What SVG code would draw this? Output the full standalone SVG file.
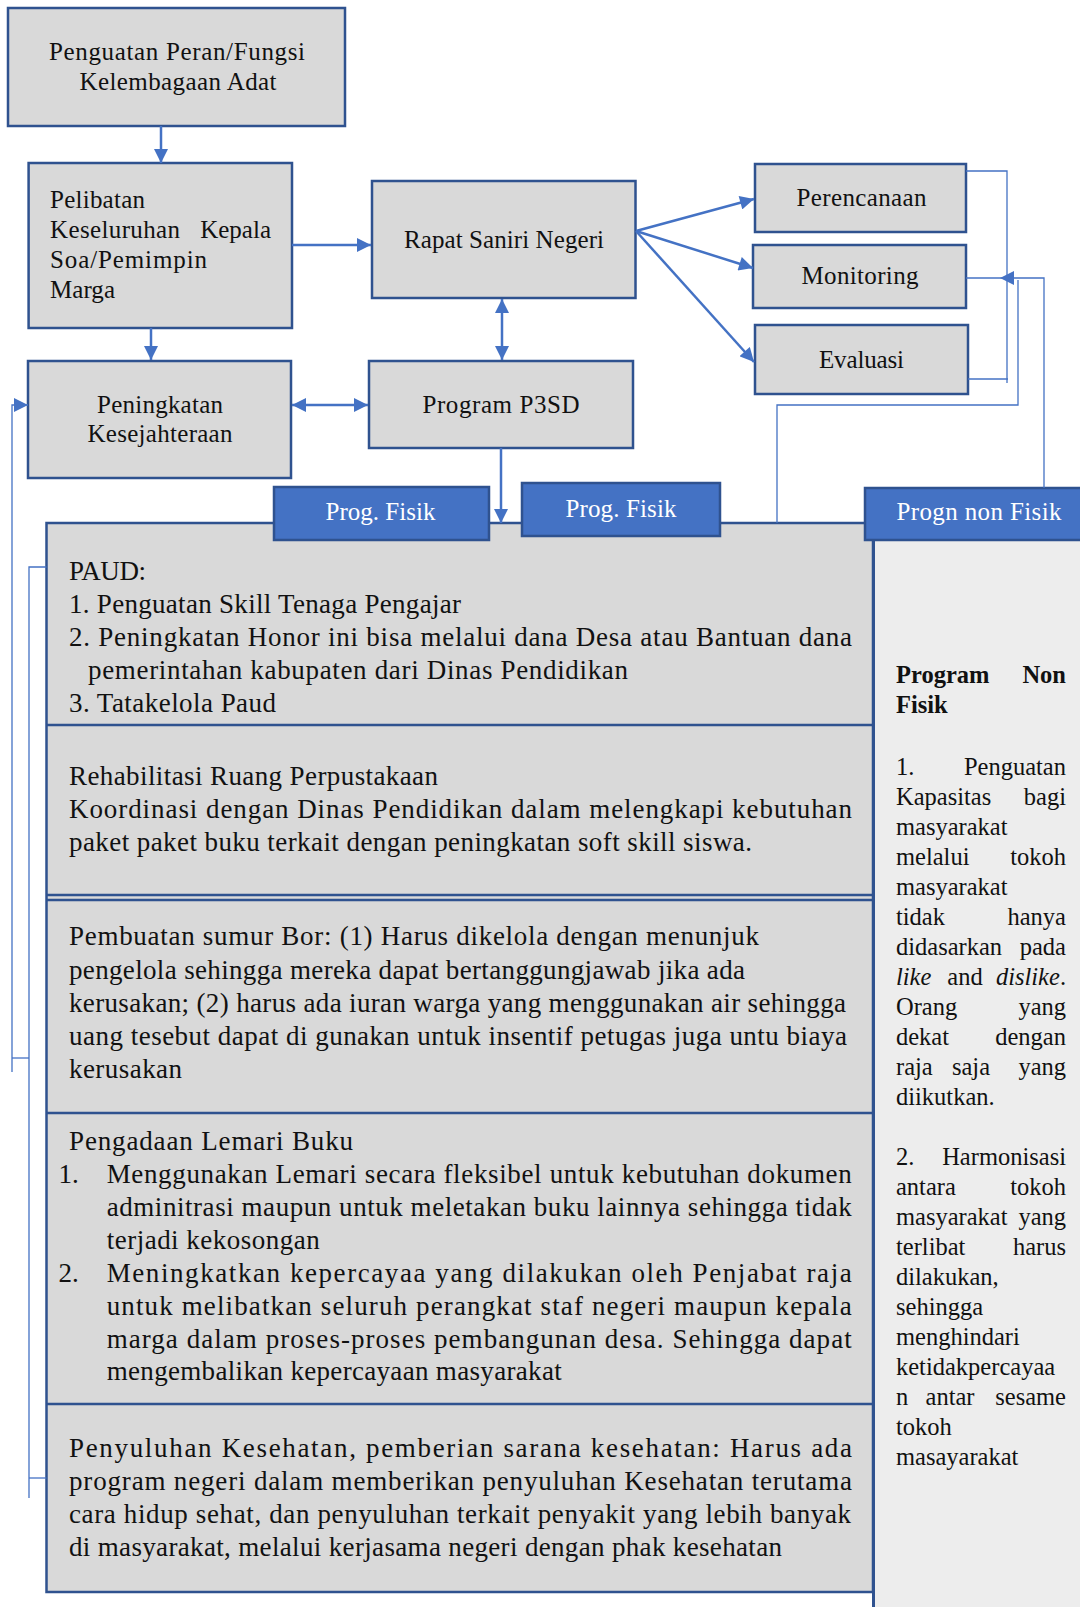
<svg xmlns="http://www.w3.org/2000/svg" width="1080" height="1607" viewBox="0 0 1080 1607">
<style>
.box{fill:#D9D9D9;stroke:#2F528F;stroke-width:2.5}
.tab{fill:#4472C4;stroke:#2F528F;stroke-width:2.5}
.t{font-family:"Liberation Serif","Times New Roman",serif;font-size:25px;fill:#111}
.tc{text-anchor:middle}
.tw{fill:#fff}
.b{font-family:"Liberation Serif","Times New Roman",serif;font-size:27px;fill:#111}
.r{font-family:"Liberation Serif","Times New Roman",serif;font-size:24.5px;fill:#111}
.e{text-anchor:end}
.bd{font-weight:bold}
.it{font-style:italic}
.arr{fill:none;stroke:#4472C4;stroke-width:2.5}
.thin{fill:none;stroke:#4472C4;stroke-width:1.3}
.dv{stroke:#2F528F;stroke-width:2.5}
</style>
<defs>
<marker id="ah" viewBox="0 0 10 10" refX="10" refY="5" markerWidth="15" markerHeight="14" markerUnits="userSpaceOnUse" orient="auto-start-reverse"><path d="M0,0 L10,5 L0,10 z" fill="#4472C4"/></marker>
</defs>

<g id="n-penguatan">
<rect class="box" x="8" y="8" width="337" height="118"/>
<text class="t tc" x="177" y="60" textLength="256">Penguatan Peran/Fungsi</text>
<text class="t tc" x="178" y="90" textLength="197">Kelembagaan Adat</text>
</g>

<g id="n-pelibatan">
<rect class="box" x="28.6" y="163" width="263.4" height="165"/>
<text class="t" x="50" y="208" textLength="95">Pelibatan</text>
<text class="t" x="50" y="238" textLength="130">Keseluruhan</text>
<text class="t e" x="271" y="238">Kepala</text>
<text class="t" x="50" y="268" textLength="157">Soa/Pemimpin</text>
<text class="t" x="50" y="298" textLength="65">Marga</text>
</g>

<g id="n-rapat">
<rect class="box" x="372" y="181" width="263.5" height="117"/>
<text class="t tc" x="504" y="248" textLength="200">Rapat Saniri Negeri</text>
</g>

<g id="n-peningkatan">
<rect class="box" x="28" y="361" width="263" height="117"/>
<text class="t tc" x="160" y="413" textLength="126">Peningkatan</text>
<text class="t tc" x="160" y="442" textLength="145">Kesejahteraan</text>
</g>

<g id="n-p3sd">
<rect class="box" x="369" y="361" width="264" height="87"/>
<text class="t tc" x="501" y="413" textLength="157">Program P3SD</text>
</g>

<g id="n-perencanaan">
<rect class="box" x="755" y="164" width="211" height="68"/>
<text class="t tc" x="861.5" y="206" textLength="130">Perencanaan</text>
</g>

<g id="n-monitoring">
<rect class="box" x="753" y="245" width="213" height="63"/>
<text class="t tc" x="860" y="284" textLength="117">Monitoring</text>
</g>

<g id="n-evaluasi">
<rect class="box" x="755" y="325" width="213" height="69"/>
<text class="t tc" x="861.5" y="368" textLength="85">Evaluasi</text>
</g>

<g id="n-program-fisik-panel">
<rect class="box" x="46.5" y="523" width="826.5" height="1069"/>
<line class="dv" x1="46.5" y1="725" x2="873" y2="725"/>
<line class="dv" x1="46.5" y1="895" x2="873" y2="895"/>
<line class="dv" x1="46.5" y1="900" x2="873" y2="900"/>
<line class="dv" x1="46.5" y1="1113" x2="873" y2="1113"/>
<line class="dv" x1="46.5" y1="1404" x2="873" y2="1404"/>
<g id="s-paud">
<text class="b" x="69" y="580" textLength="77">PAUD:</text>
<text class="b" x="69" y="613" textLength="392">1. Penguatan Skill Tenaga Pengajar</text>
<text class="b" x="69" y="646" textLength="783">2. Peningkatan Honor ini bisa melalui dana Desa atau Bantuan dana</text>
<text class="b" x="88" y="679" textLength="540">pemerintahan kabupaten dari Dinas Pendidikan</text>
<text class="b" x="69" y="712" textLength="207">3. Tatakelola Paud</text>
</g>
<g id="s-perpustakaan">
<text class="b" x="69" y="785" textLength="369">Rehabilitasi Ruang Perpustakaan</text>
<text class="b" x="69" y="818" textLength="783">Koordinasi dengan Dinas Pendidikan dalam melengkapi kebutuhan</text>
<text class="b" x="69" y="851" textLength="683">paket paket buku terkait dengan peningkatan soft skill siswa.</text>
</g>
<g id="s-sumur">
<text class="b" x="69" y="945" textLength="690">Pembuatan sumur Bor:  (1) Harus dikelola dengan menunjuk</text>
<text class="b" x="69" y="979" textLength="676">pengelola sehingga mereka dapat bertanggungjawab jika ada</text>
<text class="b" x="69" y="1012" textLength="777">kerusakan; (2) harus ada iuran warga yang menggunakan air sehingga</text>
<text class="b" x="69" y="1045" textLength="778">uang tesebut dapat di gunakan untuk insentif petugas juga untu biaya</text>
<text class="b" x="69" y="1078" textLength="113">kerusakan</text>
</g>
<g id="s-lemari">
<text class="b" x="69" y="1150" textLength="284">Pengadaan  Lemari Buku</text>
<text class="b" x="58.5" y="1183">1.</text>
<text class="b" x="106.7" y="1183" textLength="745">Menggunakan Lemari secara fleksibel untuk kebutuhan dokumen</text>
<text class="b" x="106.7" y="1216" textLength="745">adminitrasi maupun untuk meletakan buku lainnya sehingga tidak</text>
<text class="b" x="106.7" y="1249" textLength="213">terjadi kekosongan</text>
<text class="b" x="58.5" y="1282">2.</text>
<text class="b" x="106.7" y="1282" textLength="745">Meningkatkan kepercayaa yang dilakukan oleh Penjabat raja</text>
<text class="b" x="106.7" y="1315" textLength="745">untuk melibatkan seluruh perangkat staf negeri maupun kepala</text>
<text class="b" x="106.7" y="1348" textLength="745">marga dalam proses-proses pembangunan desa. Sehingga dapat</text>
<text class="b" x="106.7" y="1380" textLength="455">mengembalikan kepercayaan masyarakat</text>
</g>
<g id="s-kesehatan">
<text class="b" x="69" y="1457" textLength="783">Penyuluhan Kesehatan, pemberian sarana kesehatan: Harus ada</text>
<text class="b" x="69" y="1490" textLength="783">program negeri dalam memberikan penyuluhan Kesehatan terutama</text>
<text class="b" x="69" y="1523" textLength="782">cara hidup sehat, dan penyuluhan terkait penyakit yang lebih banyak</text>
<text class="b" x="69" y="1556" textLength="713">di masyarakat, melalui kerjasama negeri dengan phak kesehatan</text>
</g>
</g>

<g id="n-program-non-fisik-panel">
<rect x="874" y="540" width="210" height="1070" fill="#EDEDED"/>
<line x1="873.5" y1="523" x2="873.5" y2="1607" stroke="#2F528F" stroke-width="3"/>
<text class="r bd" x="896" y="683">Program</text><text class="r bd e" x="1066" y="683">Non</text>
<text class="r bd" x="896" y="713">Fisik</text>
<text class="r" x="896" y="775">1.</text><text class="r e" x="1066" y="775">Penguatan</text>
<text class="r" x="896" y="805">Kapasitas</text><text class="r e" x="1066" y="805">bagi</text>
<text class="r" x="896" y="835">masyarakat</text>
<text class="r" x="896" y="865">melalui</text><text class="r e" x="1066" y="865">tokoh</text>
<text class="r" x="896" y="895">masyarakat</text>
<text class="r" x="896" y="925">tidak</text><text class="r e" x="1066" y="925">hanya</text>
<text class="r" x="896" y="955">didasarkan</text><text class="r e" x="1066" y="955">pada</text>
<text class="r it" x="896" y="985">like</text><text class="r tc" x="965" y="985">and</text><text class="r e" x="1066" y="985"><tspan class="it">dislike</tspan>.</text>
<text class="r" x="896" y="1015">Orang</text><text class="r e" x="1066" y="1015">yang</text>
<text class="r" x="896" y="1045">dekat</text><text class="r e" x="1066" y="1045">dengan</text>
<text class="r" x="896" y="1075">raja</text><text class="r tc" x="971" y="1075">saja</text><text class="r e" x="1066" y="1075">yang</text>
<text class="r" x="896" y="1105">diikutkan.</text>
<text class="r" x="896" y="1165">2.</text><text class="r e" x="1066" y="1165">Harmonisasi</text>
<text class="r" x="896" y="1195">antara</text><text class="r e" x="1066" y="1195">tokoh</text>
<text class="r" x="896" y="1225">masyarakat</text><text class="r e" x="1066" y="1225">yang</text>
<text class="r" x="896" y="1255">terlibat</text><text class="r e" x="1066" y="1255">harus</text>
<text class="r" x="896" y="1285">dilakukan,</text>
<text class="r" x="896" y="1315">sehingga</text>
<text class="r" x="896" y="1345">menghindari</text>
<text class="r" x="896" y="1375">ketidakpercayaa</text>
<text class="r" x="896" y="1405">n</text><text class="r tc" x="950" y="1405">antar</text><text class="r e" x="1066" y="1405">sesame</text>
<text class="r" x="896" y="1435">tokoh</text>
<text class="r" x="896" y="1465">masayarakat</text>
</g>

<g id="n-tab-fisik-1">
<rect class="tab" x="274" y="487" width="215" height="53"/>
<text class="t tc tw" x="380.5" y="520" textLength="110">Prog. Fisik</text>
</g>
<g id="n-tab-fisik-2">
<rect class="tab" x="522" y="483" width="198" height="53"/>
<text class="t tc tw" x="621" y="517" textLength="111">Prog. Fisik</text>
</g>
<g id="n-tab-non-fisik">
<rect class="tab" x="865" y="488" width="220" height="52"/>
<text class="t tc tw" x="979" y="520" textLength="165">Progn non Fisik</text>
</g>

<g id="connectors">
<path class="arr" d="M161,126 V163" marker-end="url(#ah)"/>
<path class="arr" d="M292,245 H371" marker-end="url(#ah)"/>
<path class="arr" d="M502,299 V360" marker-start="url(#ah)" marker-end="url(#ah)"/>
<path class="arr" d="M151,328 V360" marker-end="url(#ah)"/>
<path class="arr" d="M292,405 H368" marker-start="url(#ah)" marker-end="url(#ah)"/>
<path class="arr" d="M501,448 V523" marker-end="url(#ah)"/>
<path class="arr" d="M636,231 L754,199" marker-end="url(#ah)"/>
<path class="arr" d="M636,231 L753,268" marker-end="url(#ah)"/>
<path class="arr" d="M636,231 L754,362" marker-end="url(#ah)"/>
<path class="thin" d="M966,171 H1007 V383"/>
<path class="thin" d="M968,379 H1008"/>
<path class="thin" d="M966,278 H1000"/>
<path class="thin" d="M1044,488 V278 H1000" marker-end="url(#ah)"/>
<path class="thin" d="M777,523 V405 H1018 V280"/>
<path class="thin" d="M12,1072 V405 H28" marker-end="url(#ah)"/>
<path class="thin" d="M12,1058 H29"/>
<path class="thin" d="M46.5,567 H29 V1498"/>
<path class="thin" d="M29,1478 H46.5"/>
</g>
</svg>
